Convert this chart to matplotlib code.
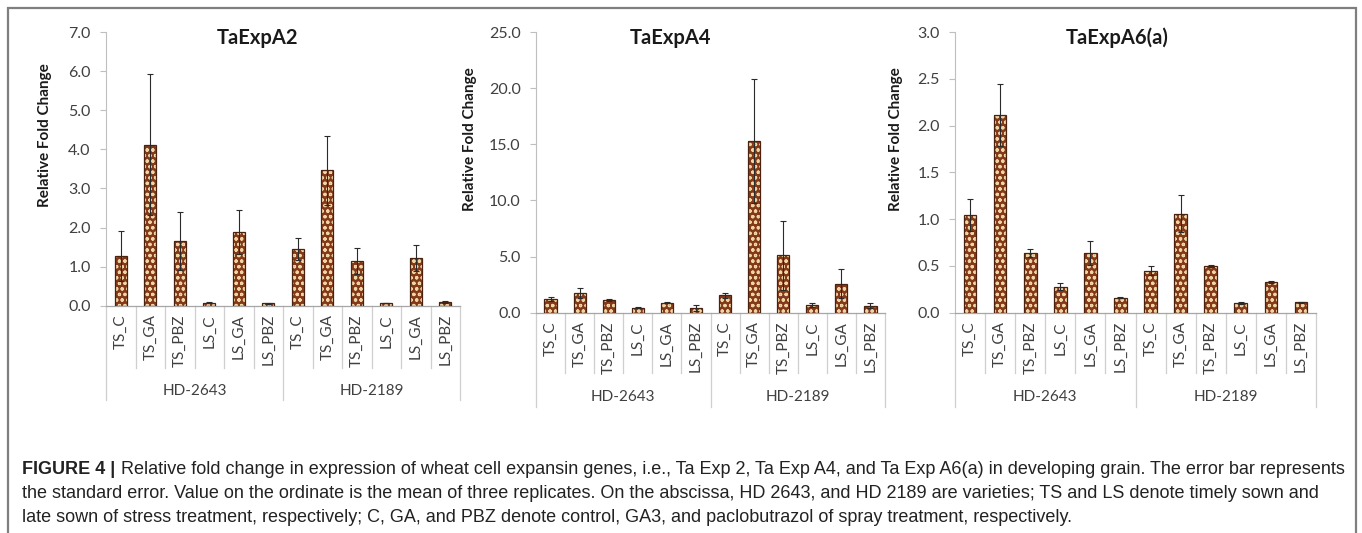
import matplotlib
matplotlib.use('Agg')
import matplotlib.pyplot as plt
import matplotlib.transforms as mtransforms
from matplotlib.patches import Rectangle
import numpy as np

# ---------------- data ----------------
categories = ["TS_C", "TS_GA", "TS_PBZ", "LS_C", "LS_GA", "LS_PBZ",
              "TS_C", "TS_GA", "TS_PBZ", "LS_C", "LS_GA", "LS_PBZ"]
groups = ["HD-2643", "HD-2189"]
titles = ["TaExpA2", "TaExpA4", "TaExpA6(a)"]

a2_mean = [1.28, 4.12, 1.65, 0.08, 1.88, 0.06, 1.44, 3.46, 1.15, 0.07, 1.22, 0.10]
a2_err = [0.64, 1.81, 0.74, 0.02, 0.57, 0.01, 0.28, 0.88, 0.33, 0.01, 0.34, 0.02]
a4_mean = [1.19, 1.73, 1.13, 0.45, 0.89, 0.42, 1.55, 15.3, 5.10, 0.69, 2.58, 0.63]
a4_err = [0.18, 0.44, 0.12, 0.05, 0.06, 0.24, 0.23, 5.50, 3.10, 0.16, 1.28, 0.22]
a6_mean = [1.04, 2.11, 0.64, 0.28, 0.64, 0.16, 0.45, 1.06, 0.50, 0.10, 0.33, 0.11]
a6_err = [0.17, 0.33, 0.04, 0.04, 0.13, 0.005, 0.05, 0.20, 0.01, 0.01, 0.01, 0.005]
y_max = [7.0, 25.0, 3.0]
y_step = [1.0, 5.0, 0.5]

caption_bold = "FIGURE 4 |"
caption_lines = [
    " Relative fold change in expression of wheat cell expansin genes, i.e., Ta Exp 2, Ta Exp A4, and Ta Exp A6(a) in developing grain. The error bar represents",
    "the standard error. Value on the ordinate is the mean of three replicates. On the abscissa, HD 2643, and HD 2189 are varieties; TS and LS denote timely sown and",
    "late sown of stress treatment, respectively; C, GA, and PBZ denote control, GA3, and paclobutrazol of spray treatment, respectively.",
]

means = [a2_mean, a4_mean, a6_mean]
errs = [a2_err, a4_err, a6_err]

# ---------------- layout (pixels) ----------------
W, H = 1362, 533
fig = plt.figure(figsize=(W / 100, H / 100), dpi=100)
fig.patch.set_facecolor('white')

# left, right, top, bottom (px)
boxes = [(106, 460, 32, 305.7), (536, 885, 32, 312.7), (955, 1316, 32, 312.7)]
title_x = [0.427, 0.384, 0.449]
ylab_x = [-0.153, -0.169, -0.144]
ylab_y = [0.624, 0.617, 0.617]
sep_short = [368, 373, 373]
sep_long = [400, 407, 407]
grp_y = [390.7, 397, 397]

FONT = 'Lato'
TXT = '#404040'
AXC = '#bfbfbf'
BROWN = '#85391b'
CREAM = '#efd5a2'
EDGE = '#4a2210'

plt.rcParams['hatch.linewidth'] = 0.85

for k in range(3):
    l, r, t, b = boxes[k]
    ax = fig.add_axes([l / W, 1 - b / H, (r - l) / W, (b - t) / H])
    x = np.arange(len(categories))
    ax.bar(x, means[k], width=0.42, color=BROWN, edgecolor=CREAM, hatch='ooo',
           linewidth=0, zorder=2)
    ax.bar(x, means[k], width=0.42, fill=False, edgecolor=EDGE, linewidth=0.9, zorder=3)
    ax.errorbar(x, means[k], yerr=errs[k], fmt='none', ecolor='#2a2a2a',
                elinewidth=0.8, capsize=2.2, capthick=0.8, zorder=4)
    ax.set_xlim(-0.5, len(categories) - 0.5)
    ax.set_ylim(0, y_max[k])
    ax.set_yticks(np.arange(0, y_max[k] + y_step[k] / 2, y_step[k]))
    ax.set_yticklabels([f"{v:.1f}" for v in ax.get_yticks()],
                       fontsize=11.5, color=TXT, family=FONT)
    ax.tick_params(axis='y', length=4, color=AXC, width=0.8, pad=7)
    ax.set_xticks(x)
    ax.set_xticklabels(categories, rotation=90, fontsize=11, color=TXT,
                       family=FONT, va='top')
    ax.tick_params(axis='x', length=0, pad=6)
    for s in ['top', 'right']:
        ax.spines[s].set_visible(False)
    ax.spines['left'].set_color(AXC)
    ax.spines['left'].set_linewidth(0.8)
    ax.spines['bottom'].set_color('#a6a6a6')
    ax.spines['bottom'].set_linewidth(0.9)
    ax.set_facecolor('none')

    ax.text(title_x[k], 0.978, titles[k], transform=ax.transAxes, ha='center',
            va='center', fontsize=14.5, fontweight='bold', family=FONT, color='#1a1a1a')
    ax.set_ylabel("Relative Fold Change", fontsize=11, fontweight='bold',
                  family=FONT, color='#1a1a1a')
    ax.yaxis.set_label_coords(ylab_x[k], ylab_y[k])

    # multi-level category axis separators
    trans = mtransforms.blended_transform_factory(ax.transData, ax.transAxes)
    hpx = b - t
    short = -(sep_short[k] - b) / hpx
    long_ = -(sep_long[k] - b) / hpx
    n = len(categories)
    for i in range(n + 1):
        xs = i - 0.5
        if i in (0, n // 2, n):
            y1 = long_
        else:
            y1 = short
        ax.plot([xs, xs], [0, y1], transform=trans, color='#cfcfcf', lw=0.9,
                clip_on=False)
    gy = -(grp_y[k] - b) / hpx
    for gi, g in enumerate(groups):
        ax.text((n // 2) * gi + (n // 2 - 1) / 2, gy, g, transform=trans,
                ha='center', va='center', fontsize=11, color=TXT, family=FONT)

# ---------------- outer frame ----------------
frame = Rectangle((7.5 / W, -0.05), (1355.5 - 7.5) / W, 1 - 8 / H + 0.05,
                  transform=fig.transFigure, fill=False, edgecolor='#7f7f7f',
                  linewidth=1.6, clip_on=False)
fig.patches.append(frame)

# ---------------- caption ----------------
cap_font = ['Liberation Sans', 'DejaVu Sans']
cap_x = 22.5
line_y = [469, 494, 518]
fs0 = 11.0
renderer = fig.canvas.get_renderer()
tb = fig.text(cap_x / W, 1 - line_y[0] / H, caption_bold, fontsize=fs0,
              fontweight='bold', family=cap_font, color='#222222', va='center')
t1 = fig.text(0, 1 - line_y[0] / H, caption_lines[0], fontsize=fs0,
              family=cap_font, color='#222222', va='center')
wb = tb.get_window_extent(renderer).width
w1 = t1.get_window_extent(renderer).width
fs = fs0 * (1345 - cap_x) / (wb + w1)
tb.set_fontsize(fs)
t1.set_fontsize(fs)
wb = tb.get_window_extent(renderer).width
t1.set_x((cap_x + wb) / W)
for j in (1, 2):
    fig.text(cap_x / W, 1 - line_y[j] / H, caption_lines[j], fontsize=fs,
             family=cap_font, color='#222222', va='center')

fig.savefig('out.png', dpi=100, facecolor='white')
